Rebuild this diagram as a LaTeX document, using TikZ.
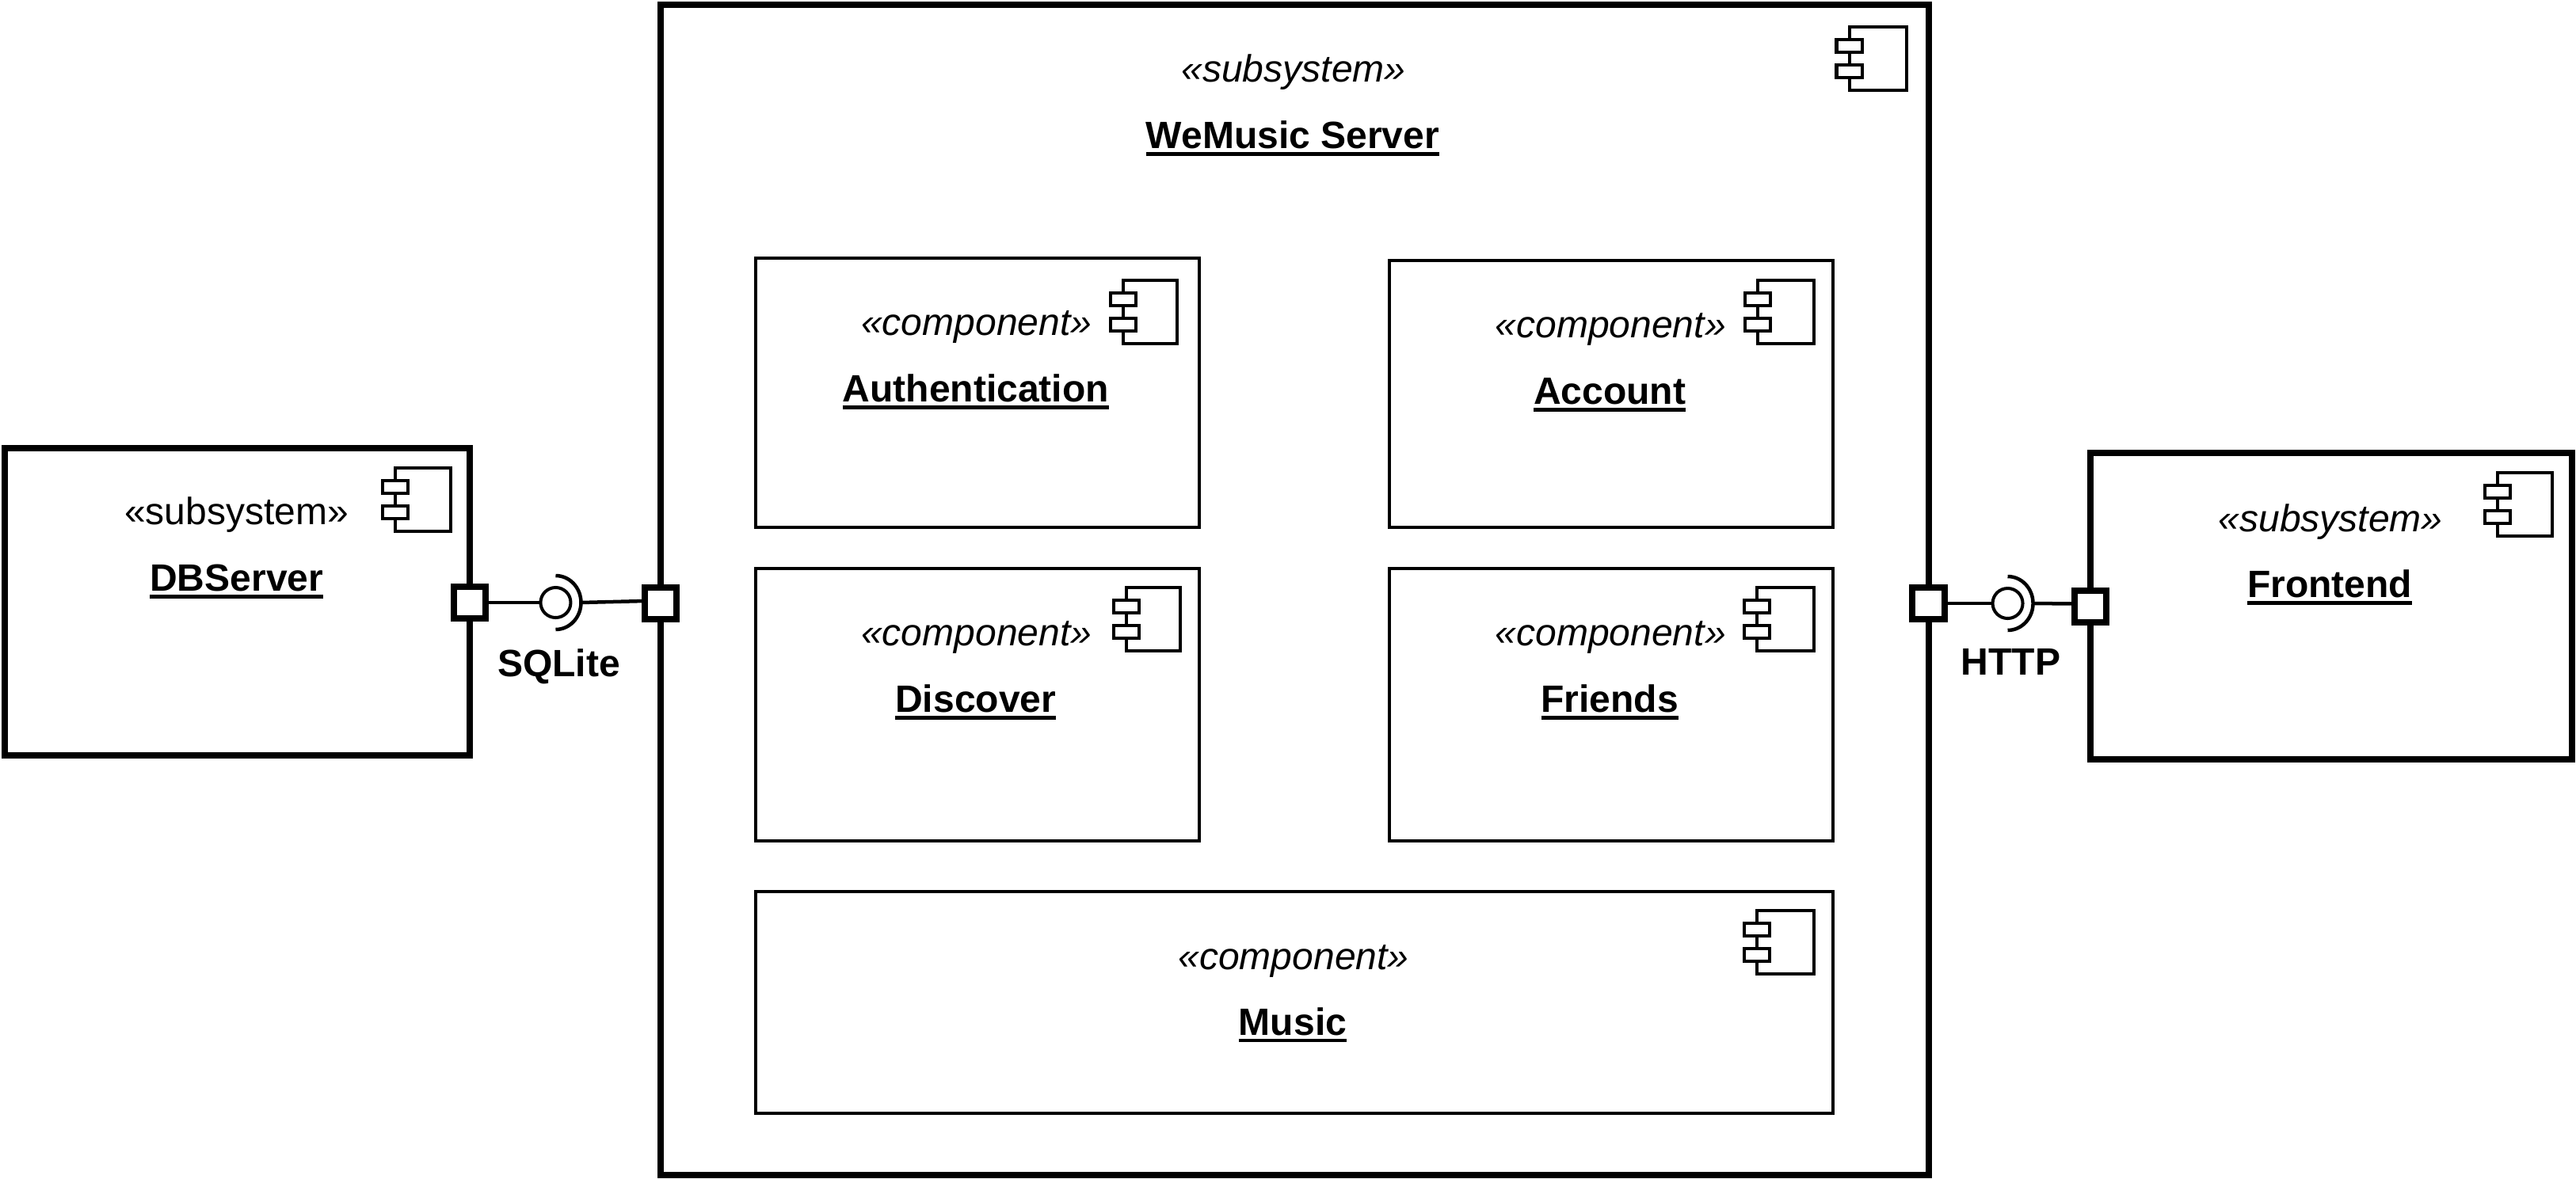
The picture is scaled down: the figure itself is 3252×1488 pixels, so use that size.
\documentclass[tikz,border=0pt]{standalone}
\usepackage{fontspec}
\setmainfont{Liberation Sans}
\usetikzlibrary{positioning,calc}

\newsavebox\namebox
\newcommand{\nameul}[1]{\sbox\namebox{\bfseries #1}\rlap{\rule[-0.09cm]{\wd\namebox}{0.045cm}}\usebox\namebox}

\begin{document}
\begin{tikzpicture}[x=0.01cm, y=-0.01cm,
    wm text/.style={anchor=base, inner sep=0pt, font=\fontsize{13.66pt}{16pt}\selectfont},
    wm sub/.style={rectangle, draw, line width=0.08cm, outer sep=0pt},
    wm comp/.style={rectangle, draw, line width=0.04cm, outer sep=0pt, minimum width=5.6cm},
    wm port/.style={rectangle, draw, fill=white, line width=0.08cm, outer sep=0pt, inner sep=0pt, minimum size=0.4cm},
    wm ball/.style={circle, draw, fill=white, line width=0.04cm, outer sep=0pt, inner sep=0pt, minimum size=0.38cm},
    wm line/.style={line width=0.045cm},
    pics/comp icon/.style={code={
        \draw [line width=0.04cm] (0,0) rectangle (#1,80);
        \draw [line width=0.04cm, fill=white] (-16,16) rectangle (16,32);
        \draw [line width=0.04cm, fill=white] (-16,48) rectangle (16,64);
    }}]

    \useasboundingbox (0,0) rectangle (3252,1488);

    \node [wm sub, minimum width=16cm, minimum height=14.78cm] (server) at (1634,745) {};
    \node [wm sub, left=2.40cm of server.west, yshift=-0.15cm, minimum width=5.87cm, minimum height=3.88cm] (dbserver) {};
    \node [wm sub, right=2.046cm of server.east, yshift=-0.205cm, minimum width=6.074cm, minimum height=3.87cm] (frontend) {};

    \node [wm comp, below right=3.2cm and 1.2cm of server.north west, minimum height=3.4cm] (auth) {};
    \node [wm comp, above right=0cm and 2.4cm of auth.south east, minimum height=3.37cm] (account) {};
    \node [wm comp, below right=0.52cm and 0cm of auth.south west, minimum height=3.44cm] (discover) {};
    \node [wm comp, right=2.4cm of discover, minimum height=3.44cm] (friends) {};
    \node [wm comp, below right=0.64cm and 0cm of discover.south west, minimum width=13.6cm, minimum height=2.8cm] (music) {};

    \node [wm text] at ([shift={(-1,98)}]server.north) {\itshape «subsystem»};
    \node [wm text] at ([shift={(-2,182)}]server.north) {\nameul{WeMusic Server}};
    \node [wm text] at ([shift={(-1,97)}]dbserver.north) {«subsystem»};
    \node [wm text] at ([shift={(-1,181)}]dbserver.north) {\nameul{DBServer}};
    \node [wm text] at ([shift={(-1,100)}]frontend.north) {\itshape «subsystem»};
    \node [wm text] at ([shift={(-2,183)}]frontend.north) {\nameul{Frontend}};

    \node [wm text] at ([shift={(-1,98)}]auth.north) {\itshape «component»};
    \node [wm text] at ([shift={(-2,182)}]auth.north) {\nameul{Authentication}};
    \node [wm text] at ([shift={(-1,98)}]account.north) {\itshape «component»};
    \node [wm text] at ([shift={(-2,182)}]account.north) {\nameul{Account}};
    \node [wm text] at ([shift={(-1,98)}]discover.north) {\itshape «component»};
    \node [wm text] at ([shift={(-2,182)}]discover.north) {\nameul{Discover}};
    \node [wm text] at ([shift={(-1,98)}]friends.north) {\itshape «component»};
    \node [wm text] at ([shift={(-2,182)}]friends.north) {\nameul{Friends}};
    \node [wm text] at ([shift={(-1,98)}]music.north) {\itshape «component»};
    \node [wm text] at ([shift={(-2,181)}]music.north) {\nameul{Music}};

    \pic at ([shift={(-100,28)}]server.north east) {comp icon=72};
    \pic at ([shift={(-94,25)}]dbserver.north east) {comp icon=70};
    \pic at ([shift={(-94,25)}]frontend.north east) {comp icon=69};
    \pic at ([shift={(-96,28)}]auth.north east) {comp icon=68};
    \pic at ([shift={(-95,25)}]account.north east) {comp icon=71};
    \pic at ([shift={(-92,24)}]discover.north east) {comp icon=68};
    \pic at ([shift={(-96,24)}]friends.north east) {comp icon=72};
    \pic at ([shift={(-96,24)}]music.north east) {comp icon=72};

    \node [wm port] (dbport) at ([yshift=-0.01cm]dbserver.east) {};
    \node [wm port] (srvportl) at ([yshift=-0.17cm]server.west) {};
    \node [wm port] (srvportr) at ([yshift=-0.17cm]server.east) {};
    \node [wm port] (feport) at (frontend.west) {};

    \node [wm ball, right=0.69cm of dbport] (dbball) {};
    \node [wm ball, right=0.61cm of srvportr] (httpball) {};
    \coordinate (dbsock) at ([shift={(32,0)}]dbball.center);
    \coordinate (httpsock) at ([shift={(32,0)}]httpball.center);

    \draw [wm line] ([shift={(0,-34)}]dbball.center) arc (-90:90:32 and 34);
    \draw [wm line] ([shift={(0,-34)}]httpball.center) arc (-90:90:32 and 34);

    \draw [wm line] (dbport) -- (dbball);
    \draw [wm line] (dbsock) -- ([shift={(0,-3)}]srvportl.west);
    \draw [wm line] (srvportr) -- (httpball);
    \draw [wm line] (httpsock) -- ([shift={(0,-3)}]feport.west);

    \node [wm text] at ([shift={(4,93)}]dbball.center) {\bfseries SQLite};
    \node [wm text] at ([shift={(4,90)}]httpball.center) {\bfseries HTTP};

\end{tikzpicture}
\end{document}
